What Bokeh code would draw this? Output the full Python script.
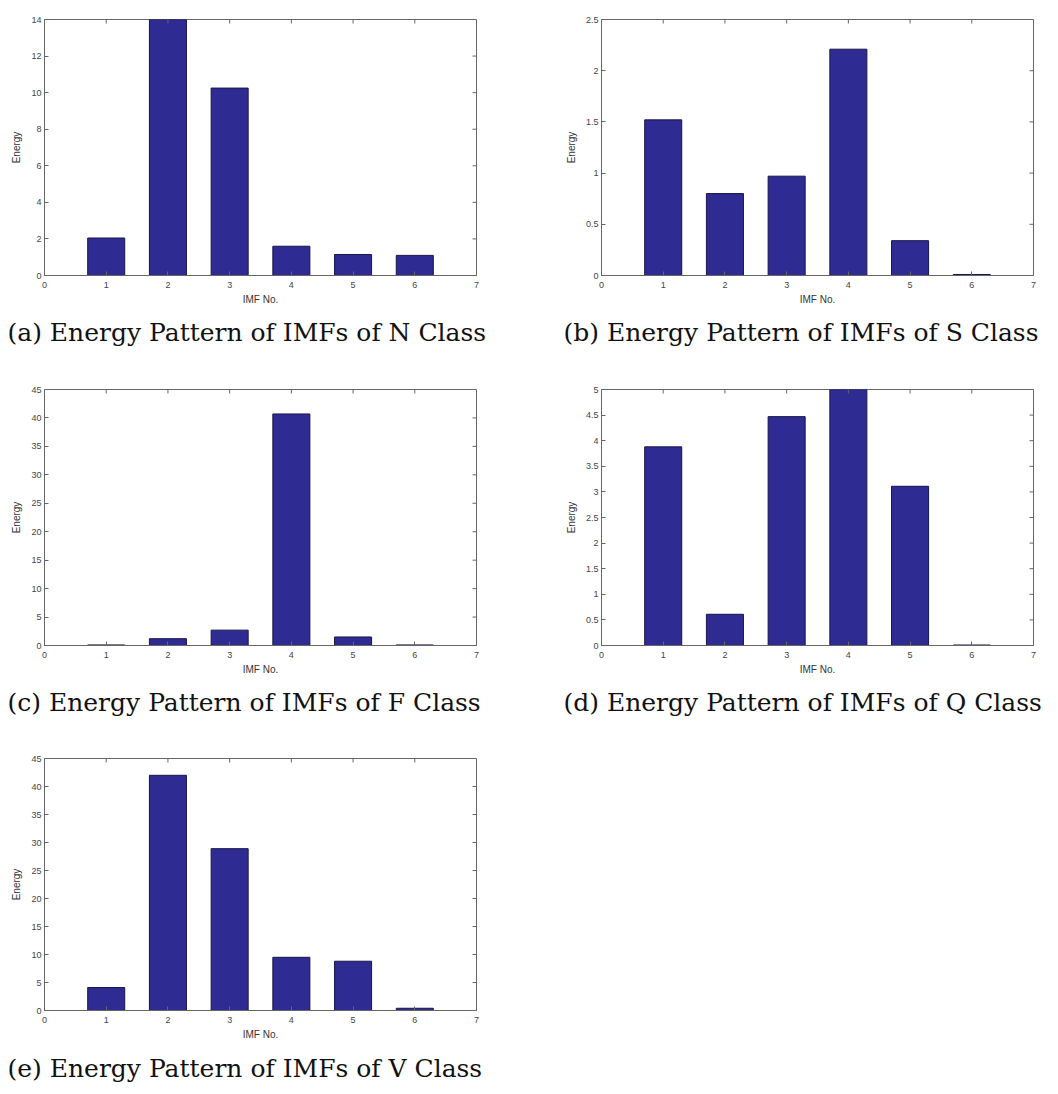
import math
from bokeh.plotting import figure
from bokeh.models import FixedTicker, Range1d
from bokeh.layouts import column, row
from bokeh.embed import file_html
from bokeh.resources import INLINE

imf = [1, 2, 3, 4, 5, 6]
x_ticks = [0, 1, 2, 3, 4, 5, 6, 7]

energy_n = [2.05, 14.0, 10.25, 1.6, 1.15, 1.1]
energy_s = [1.52, 0.80, 0.97, 2.21, 0.34, 0.01]
energy_f = [0.1, 1.2, 2.7, 40.7, 1.5, 0.1]
energy_q = [3.88, 0.61, 4.47, 5.0, 3.11, 0.01]
energy_v = [4.1, 42.0, 28.9, 9.5, 8.8, 0.4]

ticks_n = [0, 2, 4, 6, 8, 10, 12, 14]
ticks_s = [0, 0.5, 1, 1.5, 2, 2.5]
ticks_f = [0, 5, 10, 15, 20, 25, 30, 35, 40, 45]
ticks_q = [0, 0.5, 1, 1.5, 2, 2.5, 3, 3.5, 4, 4.5, 5]
ticks_v = [0, 5, 10, 15, 20, 25, 30, 35, 40, 45]

captions = [
    "(a) Energy Pattern of IMFs of N Class",
    "(b) Energy Pattern of IMFs of S Class",
    "(c) Energy Pattern of IMFs of F Class",
    "(d) Energy Pattern of IMFs of Q Class",
    "(e) Energy Pattern of IMFs of V Class",
]

BAR_FILL = "#2E2B93"
BAR_LINE = "#17164A"
AX = "#666666"
TXT = "#444444"
SANS = "Liberation Sans"
SERIF = "DejaVu Serif"


def fmt(v):
    return ("%g" % v)


def panel(values, yticks, caption, width, height, left, right, top, bottom, title_offset, standoff):
    xmax = x_ticks[-1]
    ymax = yticks[-1]
    p = figure(width=width, height=height, output_backend="svg", toolbar_location=None,
               x_range=Range1d(x_ticks[0], xmax), y_range=Range1d(yticks[0], ymax),
               title=caption, title_location="below",
               min_border_left=left, min_border_right=right,
               min_border_top=top, min_border_bottom=bottom)
    p.vbar(x=imf, top=values, width=0.6, fill_color=BAR_FILL, line_color=BAR_LINE, line_width=1)
    p.grid.visible = False
    p.outline_line_color = AX
    p.outline_line_width = 1
    p.background_fill_color = "white"
    p.border_fill_color = "white"

    for ax in (p.xaxis[0], p.yaxis[0]):
        ax.major_tick_in = 4
        ax.major_tick_out = 0
        ax.minor_tick_line_color = None
        ax.axis_line_color = AX
        ax.major_tick_line_color = AX
        ax.major_label_text_font = SANS
        ax.major_label_text_font_size = "9px"
        ax.major_label_text_color = TXT
        ax.axis_label_text_font = SANS
        ax.axis_label_text_font_size = "10px"
        ax.axis_label_text_font_style = "normal"
        ax.axis_label_text_color = "#333333"

    p.xaxis[0].ticker = FixedTicker(ticks=x_ticks)
    p.yaxis[0].ticker = FixedTicker(ticks=yticks)
    p.xaxis[0].major_label_overrides = {t: fmt(t) for t in x_ticks}
    p.yaxis[0].major_label_overrides = {t: fmt(t) for t in yticks}
    p.xaxis[0].axis_label = "IMF No."
    p.yaxis[0].axis_label = "Energy"
    p.xaxis[0].major_label_standoff = 6
    p.xaxis[0].axis_label_standoff = 3
    p.yaxis[0].major_label_standoff = 3
    p.yaxis[0].axis_label_standoff = 6

    # inward ticks on the top and right edges of the box
    p.ray(x=[xmax] * len(yticks), y=yticks, length=4, length_units="screen",
          angle=math.pi, line_color=AX, line_width=1)
    p.ray(x=x_ticks, y=[ymax] * len(x_ticks), length=4, length_units="screen",
          angle=-math.pi / 2, line_color=AX, line_width=1)

    p.title.text_font = SERIF
    p.title.text_font_size = "25px"
    p.title.text_font_style = "normal"
    p.title.text_color = "#111111"
    p.title.align = "left"
    p.title.offset = title_offset
    p.title.standoff = standoff
    return p


fa = panel(energy_n, ticks_n, captions[0], 530, 365, 44, 54, 19, 90, -37, 16)
fb = panel(energy_s, ticks_s, captions[1], 528, 365, 71, 25, 19, 90, -38, 16)
fc = panel(energy_f, ticks_f, captions[2], 530, 375, 44, 54, 24, 95, -37, 16)
fd = panel(energy_q, ticks_q, captions[3], 528, 375, 71, 25, 24, 95, -38, 16)
fe = panel(energy_v, ticks_v, captions[4], 530, 352, 44, 54, 18, 79, -37, 19)

layout = column(row(fa, fb), row(fc, fd), fe)

open("out.html", "w").write(file_html(layout, INLINE))
